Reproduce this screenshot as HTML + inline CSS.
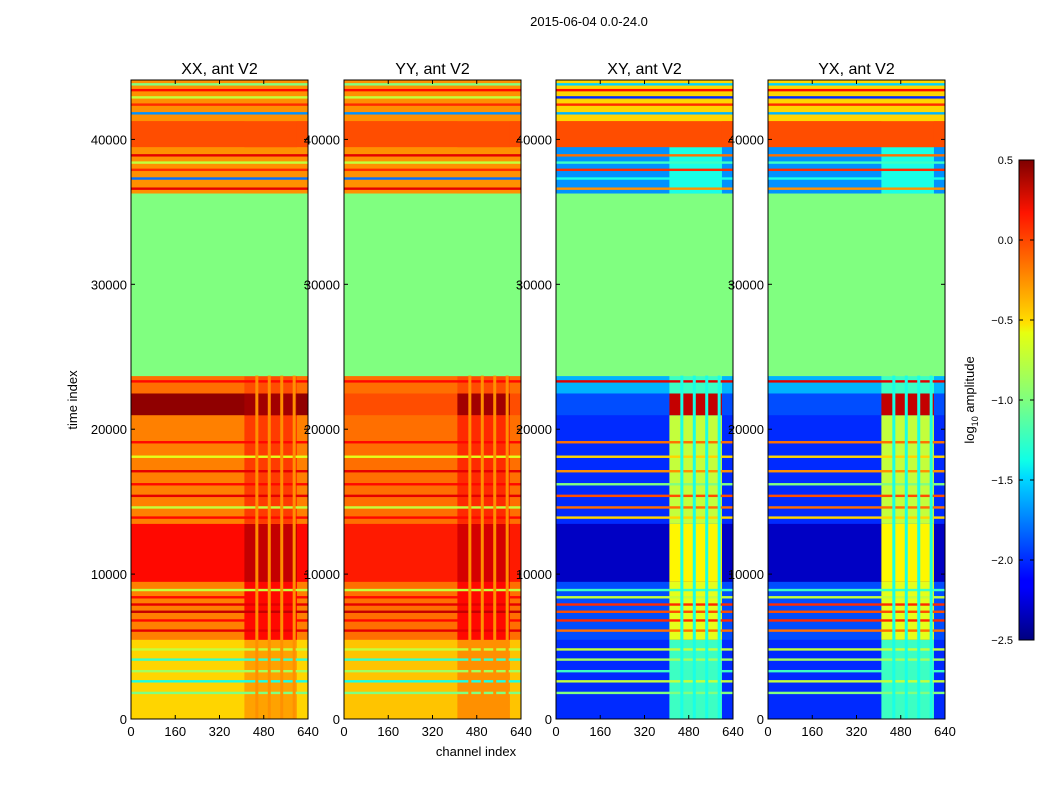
<!DOCTYPE html>
<html><head><meta charset="utf-8"><style>
body{margin:0;background:#fff;font-family:"Liberation Sans",sans-serif}
svg text{font-family:"Liberation Sans",sans-serif}
</style></head><body>
<svg id="chart" width="1050" height="800" xmlns="http://www.w3.org/2000/svg">
<text x="589" y="26" font-size="13" text-anchor="middle">2015-06-04 0.0-24.0</text>
<text x="476" y="756" font-size="13" text-anchor="middle">channel index</text>
<text transform="translate(77,400) rotate(-90)" font-size="13" text-anchor="middle">time index</text>
<g id="panels"></g>
<defs><linearGradient id="jetg" x1="0" y1="1" x2="0" y2="0">
<stop offset="0" stop-color="#00007f"/><stop offset="0.11" stop-color="#0000ff"/><stop offset="0.125" stop-color="#0000ff"/>
<stop offset="0.34" stop-color="#00dcff"/><stop offset="0.375" stop-color="#10ffe6"/><stop offset="0.5" stop-color="#7fff7f"/>
<stop offset="0.64" stop-color="#e6ff10"/><stop offset="0.66" stop-color="#ffe000"/><stop offset="0.89" stop-color="#ff1400"/>
<stop offset="1" stop-color="#7f0000"/></linearGradient></defs>
<rect x="1019" y="160" width="15" height="480" fill="url(#jetg)" stroke="#000"/>
<g id="cbticks"></g>
<text transform="translate(974,400) rotate(-90)" font-size="13" text-anchor="middle">log<tspan font-size="9" dy="4">10</tspan><tspan dy="-4"> amplitude</tspan></text>
</svg>
<script>
// ---- data ----
const panelTitles = ["XX, ant V2","YY, ant V2","XY, ant V2","YX, ant V2"];
const xTicks = [0,160,320,480,640];
const yTicks = [0,10000,20000,30000,40000];
const cbTicks = [0.5,0.0,-0.5,-1.0,-1.5,-2.0,-2.5];
const bandStarts = [0,5500,9500,13500,21000,22500,23700,36300,39500,41300];
const bandEnds   = [5500,9500,13500,21000,22500,23700,36300,39500,41300,44100];
const xxOuter = [-0.5,-0.25,0.1,-0.25,0.45,-0.2,-1.0,-0.3,-0.1,-0.3];
const xxInner = [-0.35,0.1,0.3,-0.05,0.4,-0.1,-1.0,-0.3,-0.1,-0.3];
const yyOuter = [-0.45,-0.2,0.05,-0.2,-0.1,-0.2,-1.0,-0.3,-0.1,-0.3];
const yyInner = [-0.3,0.1,0.25,0.0,0.4,-0.1,-1.0,-0.3,-0.1,-0.3];
const xyOuter = [-2.0,-1.9,-2.3,-2.0,-1.9,-1.6,-1.0,-1.7,-0.1,-0.5];
const xyInner = [-1.2,-0.7,-0.6,-0.8,0.3,-1.2,-1.0,-1.3,-0.1,-0.5];
const lineTimes = [1800,2600,3300,4100,4800,6100,6800,7400,7900,8400,8900,13900,14600,15400,16200,17100,18100,19100,23300,36600,37300,37900,38400,38900,41800,42400,42900,43400,43800];
const xxLineVals = [-1.0,-1.3,-0.9,-1.2,-0.8,0.2,0.1,0.3,0.2,0.1,-0.8,0.1,-0.8,0.2,0.1,0.2,-0.7,0.1,0.1,0.2,-1.8,0.0,-0.8,0.2,-1.7,0.0,-0.8,0.1,-1.0];
const xyLineVals = [-1.0,-0.8,-1.2,-0.9,-0.8,-0.2,0.0,-0.1,0.0,-0.8,-1.2,-0.5,-0.2,-0.1,-1.0,-0.3,-0.5,-0.2,0.2,-0.3,-1.3,0.0,-1.2,-0.2,-1.6,0.0,-2.0,0.1,-1.5];
const innerStart = 410, innerEnd = 600;
const stripeChannels = [455,500,545,590];
const panelX = [131,344,556,768];
const pW = 177, yTop = 80, yBot = 719, tMax = 44100, cMax = 640;
// ---- helpers ----
function jet(v){let t=(v+2.5)/3;t=Math.max(0,Math.min(1,t));
 const c=x=>Math.round(255*Math.max(0,Math.min(1,x)));
 const r=c(1.5-Math.abs(4*t-3)),g=c(1.5-Math.abs(4*t-2)),b=c(1.5-Math.abs(4*t-1));
 return `rgb(${r},${g},${b})`;}
const ys = t => yBot - (t/tMax)*(yBot-yTop);
const NS="http://www.w3.org/2000/svg";
function mk(tag,attrs,parent){const e=document.createElementNS(NS,tag);for(const k in attrs)e.setAttribute(k,attrs[k]);parent.appendChild(e);return e;}
const root=document.getElementById('panels');
const outers=[xxOuter,yyOuter,xyOuter,xyOuter], inners=[xxInner,yyInner,xyInner,xyInner], lines=[xxLineVals,xxLineVals,xyLineVals,xyLineVals];
panelTitles.forEach((title,p)=>{
 const x0=panelX[p]; const xs=c=>x0+(c/cMax)*pW;
 const g=mk('g',{},root);
 
 
 bandStarts.forEach((s,i)=>{
  const y1=ys(bandEnds[i]),y2=ys(s);
  let r=mk('rect',{x:x0,y:y1,width:pW,height:y2-y1+0.5,fill:jet(outers[p][i])},g);
  
  
  r=mk('rect',{x:xs(innerStart),y:y1,width:xs(innerEnd)-xs(innerStart),height:y2-y1+0.5,fill:jet(inners[p][i])},g);
  
  
 });
 lineTimes.forEach((t,i)=>{
  const r=mk('rect',{x:x0,y:ys(t)-1.2,width:pW,height:2.4,fill:jet(lines[p][i])},g);
  
  
 });
 stripeChannels.forEach(c=>{
  const v = p>=2 ? -1.3 : -0.3;
  const r=mk('rect',{x:xs(c)-1.5,y:ys(23700),width:3,height:ys(0)-ys(23700),fill:jet(v)},g);
  
  
 });
 const fr=mk('rect',{x:x0,y:yTop,width:pW,height:yBot-yTop,fill:'none',stroke:'#000','stroke-width':1},g);
 
 
 const tt=mk('text',{x:x0+pW/2,y:74,'font-size':16,'text-anchor':'middle'},g);tt.textContent=title;
 
 
 xTicks.forEach(c=>{const x=xs(c);
  mk('line',{x1:x,x2:x,y1:yBot,y2:yBot-4,stroke:'#000'},g);mk('line',{x1:x,x2:x,y1:yTop,y2:yTop+4,stroke:'#000'},g);
  const t=mk('text',{x:x,y:yBot+17,'font-size':13,'text-anchor':'middle'},g);t.textContent=c;
  
  });
 yTicks.forEach(v=>{const y=ys(v);
  mk('line',{x1:x0,x2:x0+4,y1:y,y2:y,stroke:'#000'},g);mk('line',{x1:x0+pW,x2:x0+pW-4,y1:y,y2:y,stroke:'#000'},g);
  const t=mk('text',{x:x0-4,y:y+5,'font-size':13,'text-anchor':'end'},g);t.textContent=v;
  
  });
});
const cb=document.getElementById('cbticks');
cbTicks.forEach(v=>{const y=640-(v+2.5)/3*480;
 mk('line',{x1:1019,x2:1023,y1:y,y2:y,stroke:'#000'},cb);
 mk('line',{x1:1030,x2:1034,y1:y,y2:y,stroke:'#000'},cb);
 const t=mk('text',{x:1013,y:y+4,'font-size':11,'text-anchor':'end'},cb);t.textContent=v.toFixed(1).replace('-','−');
 
 });
</script>
</body></html>
